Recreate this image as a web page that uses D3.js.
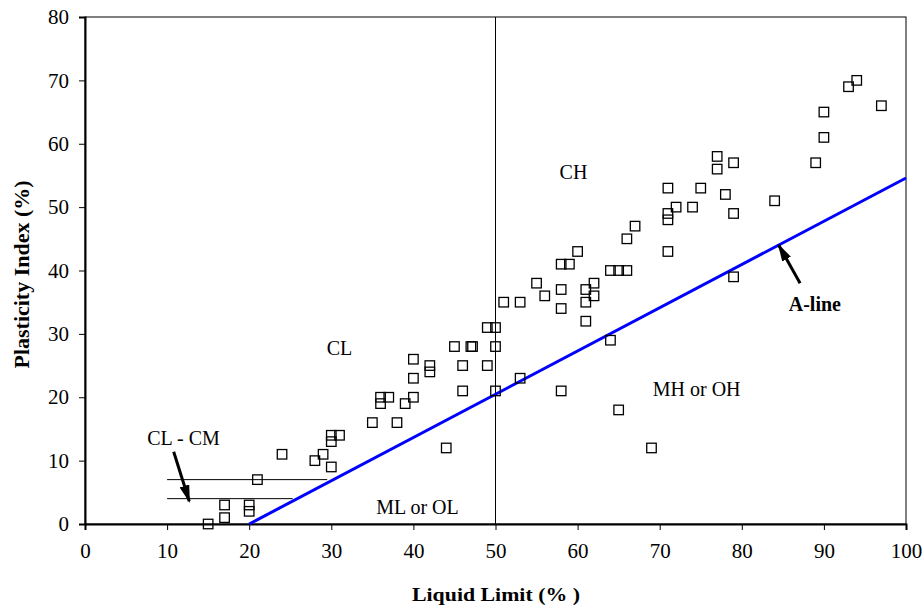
<!DOCTYPE html>
<html>
<head>
<meta charset="utf-8">
<script src="https://cdn.jsdelivr.net/npm/d3@7"></script>
<style>
  body { margin: 0; background: #fff; }
  svg text { font-family: "Liberation Serif", "Times New Roman", "DejaVu Serif", serif; fill: #000; }
  .tick text { font-size: 21px; }
  .axis-title { font-size: 19px; font-weight: bold; }
  .zone { font-size: 20px; }
</style>
</head>
<body>
<svg id="chart" width="924" height="616"></svg>
<script>
// liquid limit / plasticity index of the samples
var liquidLimit = [15, 17, 17, 20, 20, 21, 24, 28, 29, 30, 30, 30, 31, 35, 36, 36, 37, 38, 39, 40,
  40, 40, 42, 42, 44, 45, 46, 46, 47, 47.2, 49, 49, 50, 50, 50, 51, 53, 53, 55, 56,
  58, 58, 58, 58, 59, 60, 61, 61, 61, 62, 62, 64, 64, 65, 65, 66, 66, 67, 69, 71,
  71, 71, 71, 72, 74, 75, 77, 77, 78, 79, 79, 79, 84, 89, 90, 90, 93, 94, 97];
var plasticityIndex = [0, 1, 3, 2, 3, 7, 11, 10, 11, 9, 13, 14, 14, 16, 19, 20, 20, 16, 19, 20,
  23, 26, 24, 25, 12, 28, 21, 25, 28, 28, 25, 31, 31, 28, 21, 35, 35, 23, 38, 36,
  41, 37, 34, 21, 41, 43, 37, 35, 32, 38, 36, 40, 29, 40, 18, 40, 45, 47, 12, 53,
  49, 48, 43, 50, 50, 53, 58, 56, 52, 57, 49, 39, 51, 57, 61, 65, 69, 70, 66];

// A-line and the CL-CM band
var aLine = [[20, 0], [100, 54.6]];
var clcmLines = [[[10, 7], [29.5, 7]], [[10, 4], [25.3, 4]]];
var xTicks = [0, 10, 20, 30, 40, 50, 60, 70, 80, 90, 100];
var yTicks = [0, 10, 20, 30, 40, 50, 60, 70, 80];

var margin = {top: 17, right: 18, bottom: 92, left: 85},
  width = 924 - margin.left - margin.right,
  height = 616 - margin.top - margin.bottom;

var svg = d3.select('#chart');
var g = svg.append('g').attr('transform', 'translate(' + margin.left + ',' + margin.top + ')');

var x = d3.scaleLinear().domain([0, 100]).range([0, width]);
var y = d3.scaleLinear().domain([0, 80]).range([height, 0]);

//frame
g.append('rect')
  .attr('x', 0).attr('y', 0)
  .attr('width', width).attr('height', height)
  .attr('fill', 'none')
  .attr('stroke', '#000')
  .attr('stroke-width', 1);

//axes
var xAxis = g.append('g')
  .attr('transform', 'translate(0,' + height + ')')
  .call(d3.axisBottom(x).tickValues(xTicks).tickSize(6).tickPadding(13));
var yAxis = g.append('g')
  .call(d3.axisLeft(y).tickValues(yTicks).tickSize(6).tickPadding(10));
[xAxis, yAxis].forEach(function(a) {
  a.attr('font-family', null).attr('font-size', null);
  a.select('.domain').attr('stroke', '#000').attr('stroke-width', 2);
  a.selectAll('.tick line').attr('stroke', '#000');
});

//vertical line at LL = 50
g.append('line')
  .attr('x1', x(50)).attr('x2', x(50))
  .attr('y1', y(0)).attr('y2', y(80))
  .attr('stroke', '#000').attr('stroke-width', 1);

var line = d3.line().x(function(d) { return x(d[0]); }).y(function(d) { return y(d[1]); });

//CL-CM lines
g.selectAll('.clcm')
  .data(clcmLines)
  .enter().append('path')
  .attr('class', 'clcm')
  .attr('d', line)
  .attr('fill', 'none')
  .attr('stroke', '#000')
  .attr('stroke-width', 1);

//A-line
g.append('path')
  .attr('d', line(aLine))
  .attr('fill', 'none')
  .attr('stroke', '#0000ff')
  .attr('stroke-width', 3);

//points
var sq = 9.5;
g.selectAll('.pt')
  .data(d3.range(liquidLimit.length))
  .enter().append('rect')
  .attr('class', 'pt')
  .attr('x', function(i) { return x(liquidLimit[i]) - sq / 2; })
  .attr('y', function(i) { return y(plasticityIndex[i]) - sq / 2; })
  .attr('width', sq).attr('height', sq)
  .attr('fill', 'none')
  .attr('stroke', '#000')
  .attr('stroke-width', 1.3);

//zone labels
var zones = [
  {t: 'CH', lx: 59.5, ly: 55.5},
  {t: 'CL', lx: 31, ly: 27.7},
  {t: 'CL - CM', lx: 12.0, ly: 13.6},
  {t: 'ML or OL', lx: 40.5, ly: 2.7},
  {t: 'MH or OH', lx: 74.5, ly: 21.3}
];
g.selectAll('.zone')
  .data(zones)
  .enter().append('text')
  .attr('class', 'zone')
  .attr('text-anchor', 'middle')
  .attr('x', function(d) { return x(d.lx); })
  .attr('y', function(d) { return y(d.ly); })
  .attr('dy', '0.35em')
  .text(function(d) { return d.t; });

g.append('text')
  .attr('class', 'axis-title')
  .attr('text-anchor', 'middle')
  .attr('x', x(88.9)).attr('y', y(34.7))
  .attr('dy', '0.35em')
  .style('font-size', '20px')
  .text('A-line');

//arrows
svg.append('defs').append('marker')
  .attr('id', 'arrow')
  .attr('viewBox', '0 0 18 10')
  .attr('markerUnits', 'userSpaceOnUse')
  .attr('refX', 16).attr('refY', 5)
  .attr('markerWidth', 18).attr('markerHeight', 10)
  .attr('orient', 'auto')
  .append('path')
  .attr('d', 'M0,0 L18,5 L0,10 z')
  .attr('fill', '#000');

var arrows = [[[10.8, 11.4], [12.7, 3.6]], [[87.1, 38.0], [84.5, 44.0]]];
g.selectAll('.arrow')
  .data(arrows)
  .enter().append('path')
  .attr('class', 'arrow')
  .attr('d', line)
  .attr('stroke', '#000')
  .attr('stroke-width', 3)
  .attr('marker-end', 'url(#arrow)');

//axis titles
svg.append('text')
  .attr('class', 'axis-title')
  .attr('text-anchor', 'middle')
  .attr('x', 496)
  .attr('y', 601)
  .attr('textLength', 168)
  .attr('lengthAdjust', 'spacingAndGlyphs')
  .text('Liquid Limit (% )');

svg.append('text')
  .attr('class', 'axis-title')
  .attr('text-anchor', 'middle')
  .attr('transform', 'translate(29,' + (margin.top + height / 2 + 4) + ') rotate(-90)')
  .attr('textLength', 188)
  .attr('lengthAdjust', 'spacingAndGlyphs')
  .style('font-size', '20px')
  .text('Plasticity Index (%)');
</script>
</body>
</html>
